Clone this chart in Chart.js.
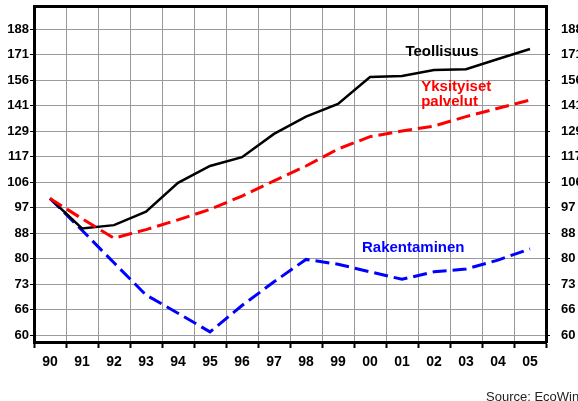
<!DOCTYPE html>
<html>
<head>
<meta charset="utf-8">
<script src="https://cdn.jsdelivr.net/npm/chart.js@4/dist/chart.umd.min.js"></script>
<style>
  body { margin: 0; background: #fff; }
  #wrap { position: relative; width: 578px; height: 401px; overflow: hidden; }
  #source {
    position: absolute; left: 486px; top: 390px;
    font: 13px Arial, "Liberation Sans", sans-serif; line-height: 1;
    color: #222; white-space: nowrap;
  }
</style>
</head>
<body>
<div id="wrap">
  <canvas id="chart" width="578" height="401"></canvas>
  <div id="source">Source: EcoWin</div>
</div>
<script>
// vuodet (x-akseli)
const years = ["90", "91", "92", "93", "94", "95", "96", "97", "98", "99", "00", "01", "02", "03", "04", "05"];

// indeksit, 1990 = 100
const teollisuus = [100, 89.4, 90.5, 95.2, 106, 112.9, 116.7, 127.3, 135.8, 142.4, 157.5, 158.1, 161.7, 162.1, 168.5, 174.9];
const palvelut = [100, 92.7, 86.2, 89, 92.3, 96, 100.9, 106.8, 112.9, 120.3, 126, 128.7, 131.1, 135.8, 140.1, 144.5];
const rakentaminen = [100, 88.8, 78.6, 69.7, 65.1, 60.7, 67, 73.2, 79.6, 78.2, 76, 73.9, 76, 76.8, 79.4, 82.8];

// y-akselin jaotus (log-asteikko, 10 % välein)
const yTicks = [60, 66, 72.6, 79.86, 87.85, 96.63, 106.29, 116.92, 128.62, 141.48, 155.62, 171.19, 188.31];
const yMin = 58.45;
const yMax = 205.4;

const FONT = "Arial, 'Liberation Sans', sans-serif";

// tekstit kuvan sisällä
const labelPlugin = {
  id: "seriesLabels",
  afterDatasetsDraw(chart, args, opts) {
    const ctx = chart.ctx;
    const x = chart.scales.x;
    const y = chart.scales.y;
    ctx.save();
    ctx.font = "bold 15px " + FONT;
    ctx.textBaseline = "middle";
    opts.items.forEach((item) => {
      ctx.fillStyle = item.color;
      ctx.textAlign = item.align;
      ctx.fillText(item.text, x.getPixelForValue(item.at), y.getPixelForValue(item.value));
    });
    ctx.restore();
  },
};

function setTicks(scale) {
  scale.ticks = yTicks.map((v) => ({ value: v }));
}

// kiinteä leveys, ei ylimääräistä tilaa ylös/alas
function fixWidth(w) {
  return function (scale) {
    scale.width = w;
    scale.paddingTop = 0;
    scale.paddingBottom = 0;
  };
}

const gridColor = "#9a9a9a";

new Chart(document.getElementById("chart"), {
  type: "line",
  data: {
    labels: years,
    datasets: [
      {
        label: "Yksityiset palvelut",
        data: palvelut,
        borderColor: "#ff0000",
        borderWidth: 3,
        borderDash: [14, 6],
      },
      {
        label: "Teollisuus",
        data: teollisuus,
        borderColor: "#000000",
        borderWidth: 2.5,
      },
      {
        label: "Rakentaminen",
        data: rakentaminen,
        borderColor: "#0000ff",
        borderWidth: 3,
        borderDash: [14, 6],
      },
    ],
  },
  options: {
    responsive: false,
    devicePixelRatio: 1,
    animation: false,
    layout: { padding: 0 },
    elements: {
      point: { radius: 0 },
      line: { tension: 0, fill: false },
    },
    plugins: {
      legend: { display: false },
      tooltip: { enabled: false },
      seriesLabels: {
        items: [
          { text: "Teollisuus", color: "#000000", at: 12.25, value: 173, align: "center" },
          { text: "Yksityiset", color: "#ff0000", at: 11.6, value: 151.7, align: "left" },
          { text: "palvelut", color: "#ff0000", at: 11.6, value: 143.4, align: "left" },
          { text: "Rakentaminen", color: "#0000ff", at: 9.75, value: 83.1, align: "left" },
        ],
      },
    },
    scales: {
      x: {
        type: "category",
        position: "bottom",
        offset: true,
        grid: {
          offset: true,
          color: gridColor,
          lineWidth: 1,
          tickLength: 6,
          tickColor: "#000",
          tickWidth: 2,
        },
        border: { color: "#000", width: 3 },
        ticks: {
          color: "#000",
          font: { family: FONT, size: 14, weight: "bold" },
          padding: 6,
          maxRotation: 0,
          autoSkip: false,
        },
        afterFit(scale) {
          scale.height = 59;
        },
      },
      xTop: {
        type: "category",
        position: "top",
        labels: years,
        offset: true,
        grid: { drawOnChartArea: false, drawTicks: false },
        border: { color: "#000", width: 3 },
        ticks: { display: false },
        afterFit(scale) {
          scale.height = 6;
        },
      },
      y: {
        type: "logarithmic",
        position: "left",
        min: yMin,
        max: yMax,
        afterBuildTicks: setTicks,
        grid: {
          color: gridColor,
          lineWidth: 1,
          tickLength: 4,
          tickColor: "#000",
        },
        border: { color: "#000", width: 3 },
        ticks: {
          color: "#000",
          font: { family: FONT, size: 13, weight: "bold" },
          padding: 1,
          callback: (v) => Math.round(v),
        },
        afterFit: fixWidth(34),
      },
      y2: {
        type: "logarithmic",
        position: "right",
        min: yMin,
        max: yMax,
        afterBuildTicks: setTicks,
        grid: {
          drawOnChartArea: false,
          tickLength: 4,
          tickColor: "#000",
        },
        border: { color: "#000", width: 3 },
        ticks: {
          color: "#000",
          font: { family: FONT, size: 13, weight: "bold" },
          padding: 11,
          callback: (v) => Math.round(v),
        },
        afterFit: fixWidth(32),
      },
    },
  },
  plugins: [labelPlugin],
});
</script>
</body>
</html>
